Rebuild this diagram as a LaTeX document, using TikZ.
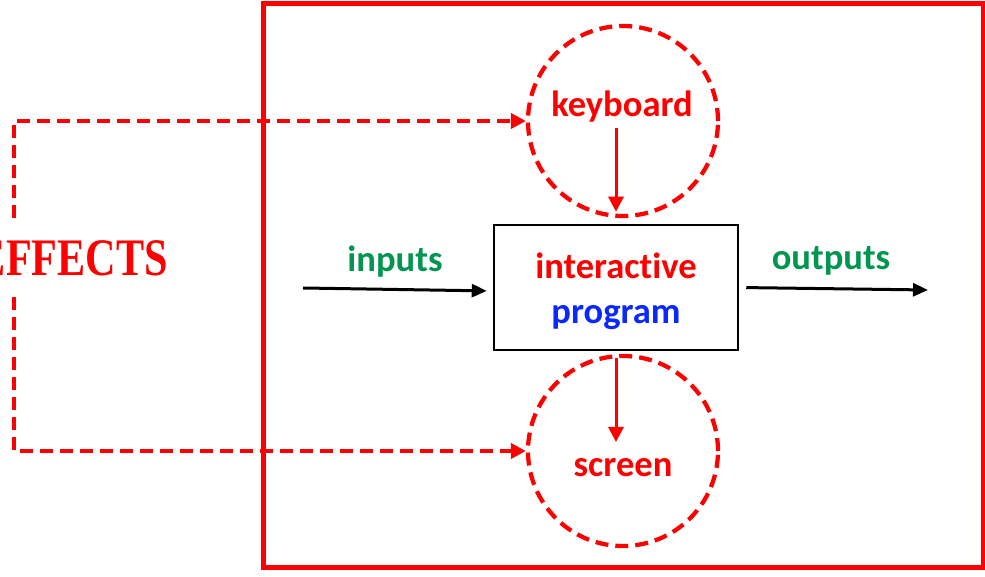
\documentclass[tikz,border=0pt]{standalone}
\usepackage{fontspec}
\setmainfont{Carlito}[Ligatures=NoCommon]
\newfontfamily\effectsfont{Liberation Serif}
\usetikzlibrary{arrows.meta}
\definecolor{labelgreen}{RGB}{0,150,80}
\definecolor{labelblue}{RGB}{10,40,255}

\begin{document}
\begin{tikzpicture}[x=0.2mm, y=-0.2mm,
  labeltext/.style={font=\fontsize{20.8}{25}\selectfont\bfseries, inner sep=0pt, anchor=base},
  device/.style={draw=red, circle, line width=0.85mm, dash pattern=on 2.6mm off 1.4mm, minimum size=38mm, inner sep=0pt},
  effect/.style={draw=red, line width=0.85mm, dash pattern=on 2.6mm off 1.4mm, -{Triangle[length=3mm, width=3mm]}},
  cause/.style={draw=red, line width=0.6mm, -{Triangle[length=3mm, width=3mm]}},
  flow/.style={draw=black, line width=0.6mm, -{Triangle[length=3mm, width=2.6mm]}}]

\useasboundingbox (0,0) rectangle (985,577);

\draw[red, line width=1mm] (263,3.5) rectangle (983,568);

\node[device] (kbd) at (623,121) {};
\node[device] (scr) at (623,451) {};
\node[draw, line width=0.5mm, minimum width=48.8mm, minimum height=25mm] (program) at (616,287.5) {};

\node[labeltext, red] (kbdlabel) at (622,117) {keyboard};
\node[labeltext, red] (scrlabel) at (623,477) {screen};
\node[labeltext, red] (proglabel1) at (616,279) {interactive};
\node[labeltext, labelblue] (proglabel2) at (616,324) {program};
\node[labeltext, labelgreen] (inlabel) at (395,272) {inputs};
\node[labeltext, labelgreen] (outlabel) at (831,270) {outputs};

\node[font=\effectsfont\bfseries\fontsize{30}{30}\selectfont, red, xscale=0.80, anchor=base east, inner sep=0pt] (effects) at (168,276) {EFFECTS};

% inputs and outputs
\coordinate (in) at (303,288);
\coordinate (out) at (928,290);
\draw[flow, shorten >=1.2mm] (in) -- ([yshift=-0.7mm]program.west);
\draw[flow, shorten <=1.4mm] (program.east) -- (out);

% keyboard and screen
\draw[cause, shorten <=1.4mm, shorten >=2.4mm] (program.north |- kbd.center) -- (program.north);
\draw[cause, shorten <=1.4mm, shorten >=1.8mm] (program.south) -- (program.south |- scr.center);

% side effects
\coordinate (effup) at (14,218);
\coordinate (effdown) at (14,297);
\draw[effect] (effup) |- (kbd.west);
\draw[effect] (effdown) |- (scr.west);
\end{tikzpicture}
\end{document}
